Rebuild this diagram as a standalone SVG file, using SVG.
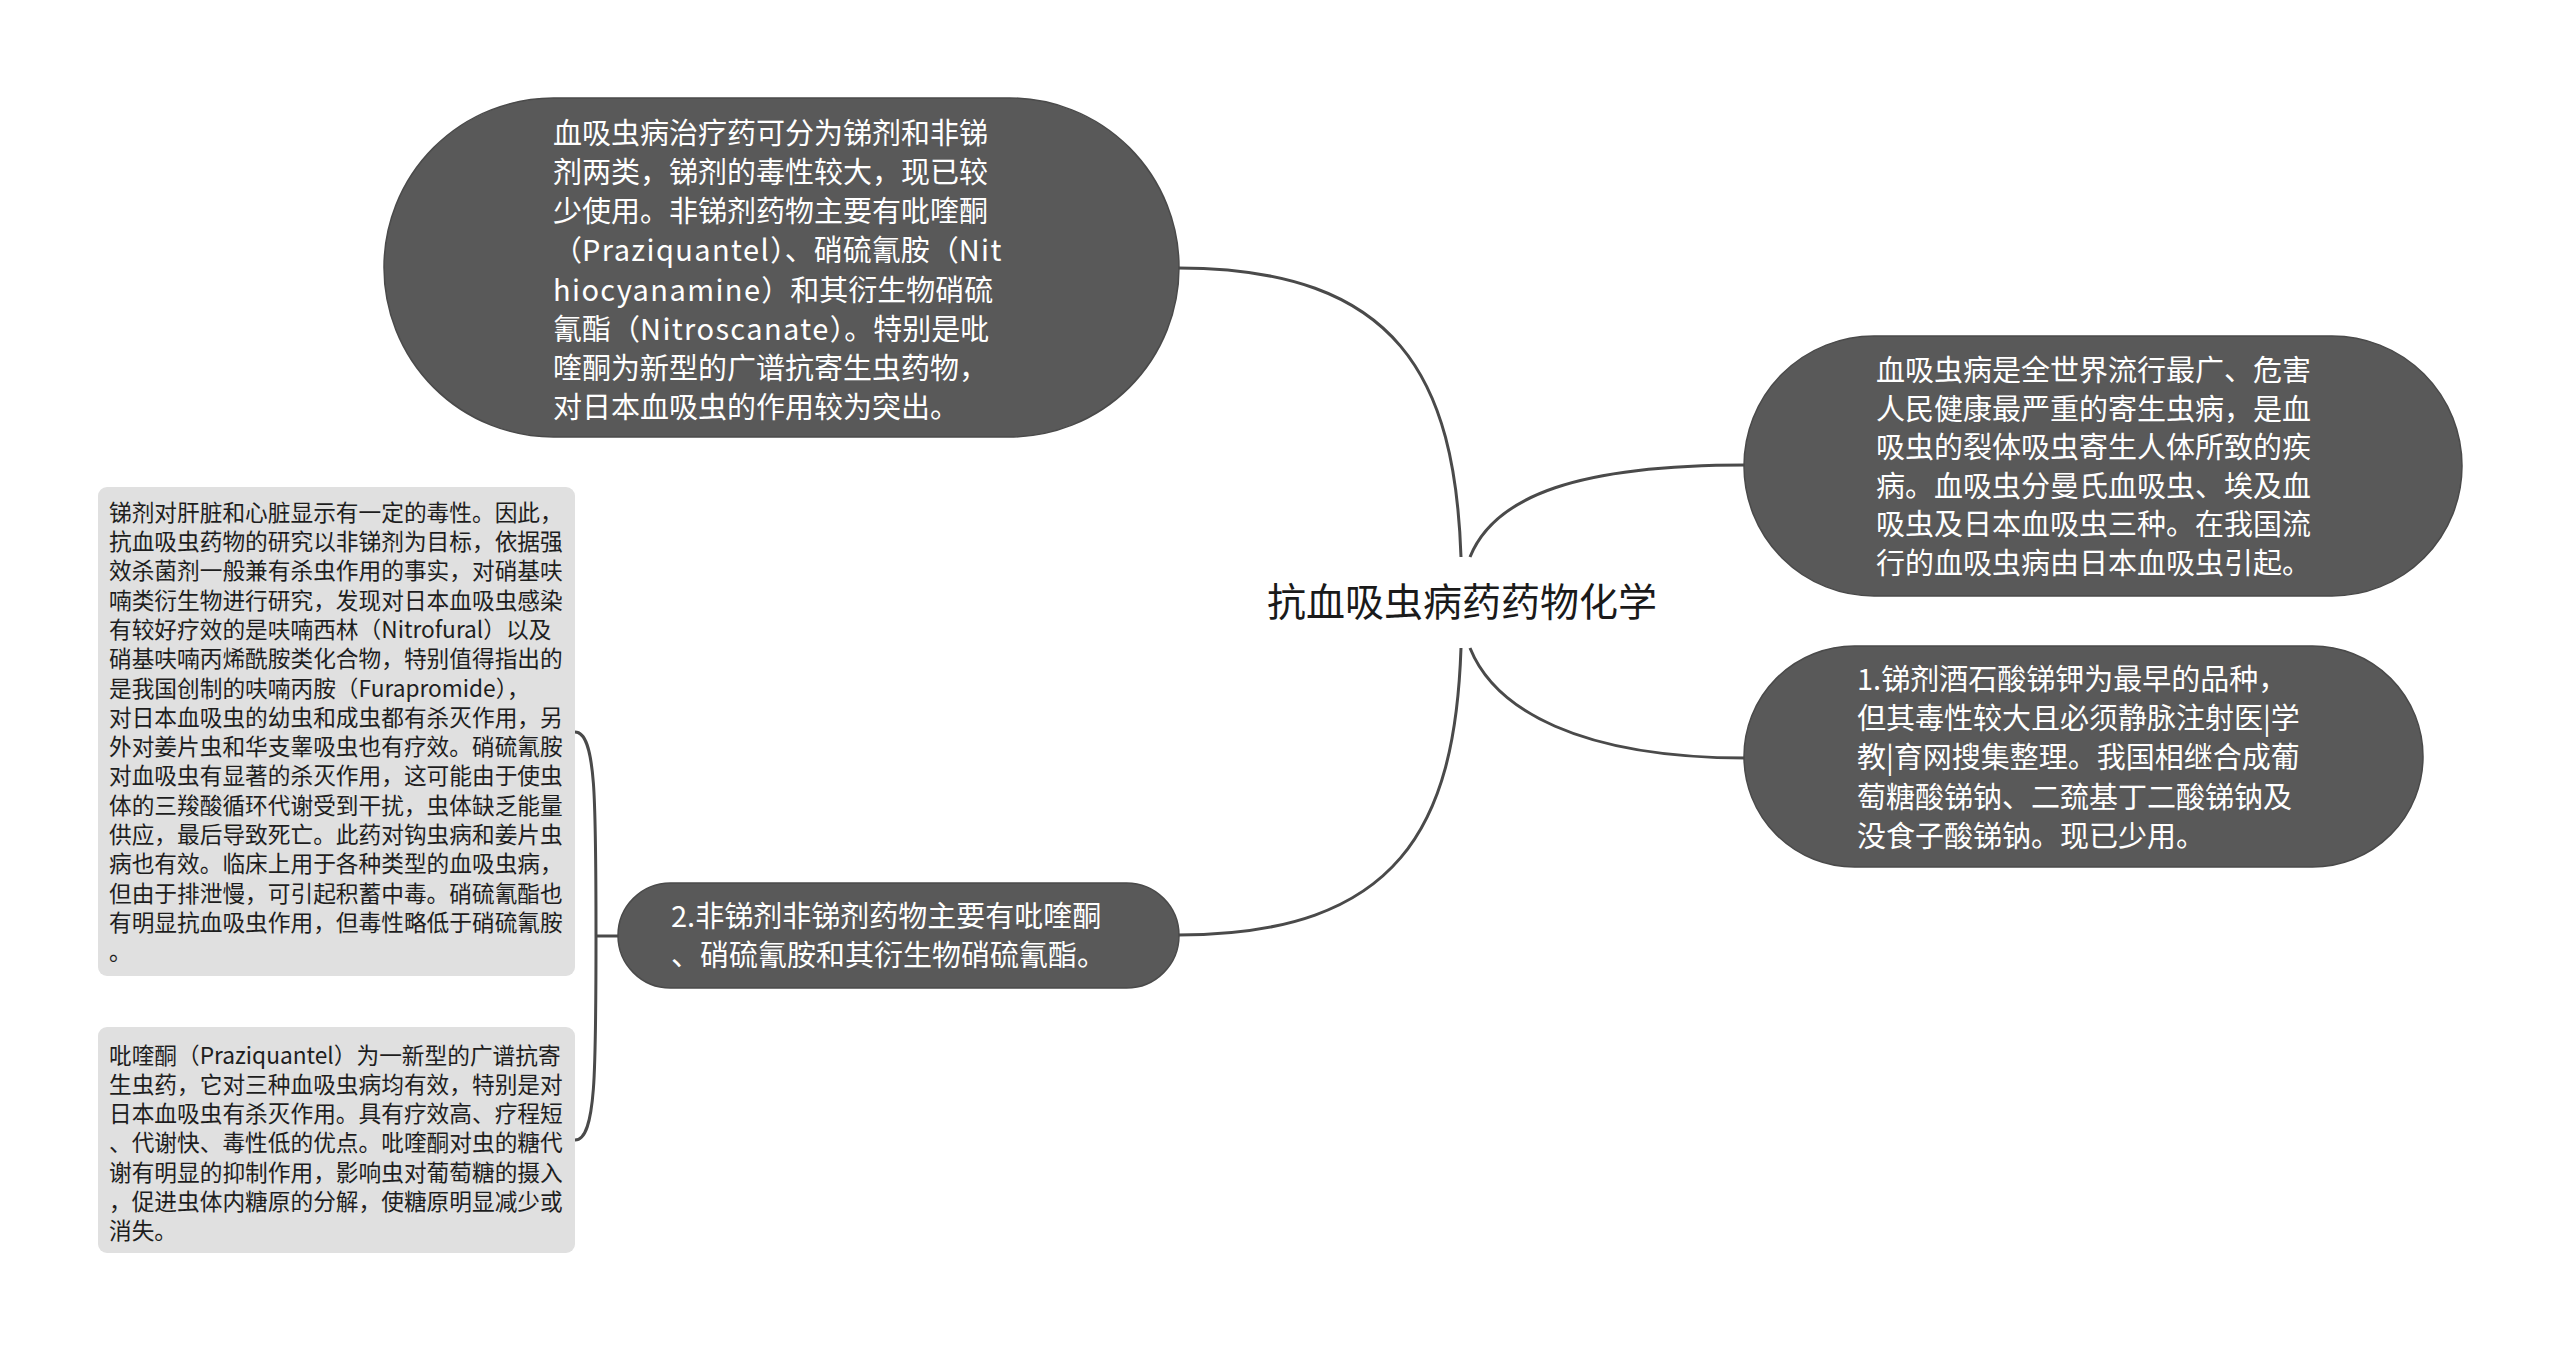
<svg xmlns="http://www.w3.org/2000/svg" width="2560" height="1351" viewBox="0 0 2560 1351">
<style>
.dark{fill:#595959;stroke:#4a4a4a;stroke-width:1.5}
.light{fill:#e0e0e0}
.wt{font-family:"Noto Sans CJK SC","Noto Sans",sans-serif;font-size:29px;fill:#ffffff}
.bt{font-family:"Noto Sans CJK SC","Noto Sans",sans-serif;font-size:22.7px;fill:#1e1e1e}
.title{font-family:"Noto Sans CJK SC","Noto Sans",sans-serif;font-size:39px;fill:#1a1a1a}
.lat{letter-spacing:1.4px}
.edge{fill:none;stroke:#4a4a4a;stroke-width:3}
</style>
<rect width="2560" height="1351" fill="#ffffff"/>
<g id="connectors">
<path class="edge" d="M1461 557 C1455 380 1400 268 1178 268"/>
<path class="edge" d="M1461 648 C1455 825 1400 935 1178 935"/>
<path class="edge" d="M1470 557 C1495 495 1580 465 1746 465"/>
<path class="edge" d="M1470 648 C1495 710 1580 758 1746 758"/>
<path class="edge" d="M618 936 L596 936"/>
<path class="edge" d="M575 732 C596 732 596 800 596 936"/>
<path class="edge" d="M575 1140 C596 1140 596 1072 596 936"/>
</g>
<g id="root">
<text class="title" x="1462" y="616" text-anchor="middle">抗血吸虫病药药物化学</text>
</g>
<g id="node-top-left">
<rect class="dark" x="384" y="98" width="795" height="339" rx="169.5"/>
<text class="wt">
<tspan x="553" y="144">血吸虫病治疗药可分为锑剂和非锑</tspan>
<tspan x="553" y="183">剂两类，锑剂的毒性较大，现已较</tspan>
<tspan x="553" y="222">少使用。非锑剂药物主要有吡喹酮</tspan>
<tspan x="553" y="261">（<tspan class="lat">Praziquantel</tspan>）、硝硫氰胺（<tspan class="lat">Nit</tspan></tspan>
<tspan x="553" y="301"><tspan class="lat">hiocyanamine</tspan>）和其衍生物硝硫</tspan>
<tspan x="553" y="340">氰酯（<tspan class="lat">Nitroscanate</tspan>）。特别是吡</tspan>
<tspan x="553" y="379">喹酮为新型的广谱抗寄生虫药物，</tspan>
<tspan x="553" y="418">对日本血吸虫的作用较为突出。</tspan>
</text>
</g>
<g id="node-right-top">
<rect class="dark" x="1744" y="336" width="718" height="260" rx="130"/>
<text class="wt">
<tspan x="1876" y="381">血吸虫病是全世界流行最广、危害</tspan>
<tspan x="1876" y="420">人民健康最严重的寄生虫病，是血</tspan>
<tspan x="1876" y="458">吸虫的裂体吸虫寄生人体所致的疾</tspan>
<tspan x="1876" y="497">病。血吸虫分曼氏血吸虫、埃及血</tspan>
<tspan x="1876" y="535">吸虫及日本血吸虫三种。在我国流</tspan>
<tspan x="1876" y="574">行的血吸虫病由日本血吸虫引起。</tspan>
</text>
</g>
<g id="node-right-bottom">
<rect class="dark" x="1744" y="646" width="679" height="221" rx="110.5"/>
<text class="wt">
<tspan x="1857" y="690">1.锑剂酒石酸锑钾为最早的品种，</tspan>
<tspan x="1857" y="729">但其毒性较大且必须静脉注射医|学</tspan>
<tspan x="1857" y="768">教|育网搜集整理。我国相继合成葡</tspan>
<tspan x="1857" y="808">萄糖酸锑钠、二巯基丁二酸锑钠及</tspan>
<tspan x="1857" y="847">没食子酸锑钠。现已少用。</tspan>
</text>
</g>
<g id="node-left-bottom">
<rect class="dark" x="618" y="883" width="561" height="105" rx="52.5"/>
<text class="wt">
<tspan x="671" y="927">2.非锑剂非锑剂药物主要有吡喹酮</tspan>
<tspan x="671" y="966">、硝硫氰胺和其衍生物硝硫氰酯。</tspan>
</text>
</g>
<g id="leaf-a">
<rect class="light" x="98" y="487" width="477" height="489" rx="9"/>
<text class="bt">
<tspan x="109" y="521">锑剂对肝脏和心脏显示有一定的毒性。因此，</tspan>
<tspan x="109" y="550">抗血吸虫药物的研究以非锑剂为目标，依据强</tspan>
<tspan x="109" y="579">效杀菌剂一般兼有杀虫作用的事实，对硝基呋</tspan>
<tspan x="109" y="609">喃类衍生物进行研究，发现对日本血吸虫感染</tspan>
<tspan x="109" y="638">有较好疗效的是呋喃西林（Nitrofural）以及</tspan>
<tspan x="109" y="667">硝基呋喃丙烯酰胺类化合物，特别值得指出的</tspan>
<tspan x="109" y="697">是我国创制的呋喃丙胺（Furapromide），</tspan>
<tspan x="109" y="726">对日本血吸虫的幼虫和成虫都有杀灭作用，另</tspan>
<tspan x="109" y="755">外对姜片虫和华支睾吸虫也有疗效。硝硫氰胺</tspan>
<tspan x="109" y="784">对血吸虫有显著的杀灭作用，这可能由于使虫</tspan>
<tspan x="109" y="814">体的三羧酸循环代谢受到干扰，虫体缺乏能量</tspan>
<tspan x="109" y="843">供应，最后导致死亡。此药对钩虫病和姜片虫</tspan>
<tspan x="109" y="872">病也有效。临床上用于各种类型的血吸虫病，</tspan>
<tspan x="109" y="902">但由于排泄慢，可引起积蓄中毒。硝硫氰酯也</tspan>
<tspan x="109" y="931">有明显抗血吸虫作用，但毒性略低于硝硫氰胺</tspan>
<tspan x="109" y="960">。</tspan>
</text>
</g>
<g id="leaf-b">
<rect class="light" x="98" y="1027" width="477" height="226" rx="9"/>
<text class="bt">
<tspan x="109" y="1064">吡喹酮（Praziquantel）为一新型的广谱抗寄</tspan>
<tspan x="109" y="1093">生虫药，它对三种血吸虫病均有效，特别是对</tspan>
<tspan x="109" y="1122">日本血吸虫有杀灭作用。具有疗效高、疗程短</tspan>
<tspan x="109" y="1151">、代谢快、毒性低的优点。吡喹酮对虫的糖代</tspan>
<tspan x="109" y="1181">谢有明显的抑制作用，影响虫对葡萄糖的摄入</tspan>
<tspan x="109" y="1210">，促进虫体内糖原的分解，使糖原明显减少或</tspan>
<tspan x="109" y="1239">消失。</tspan>
</text>
</g>
</svg>
